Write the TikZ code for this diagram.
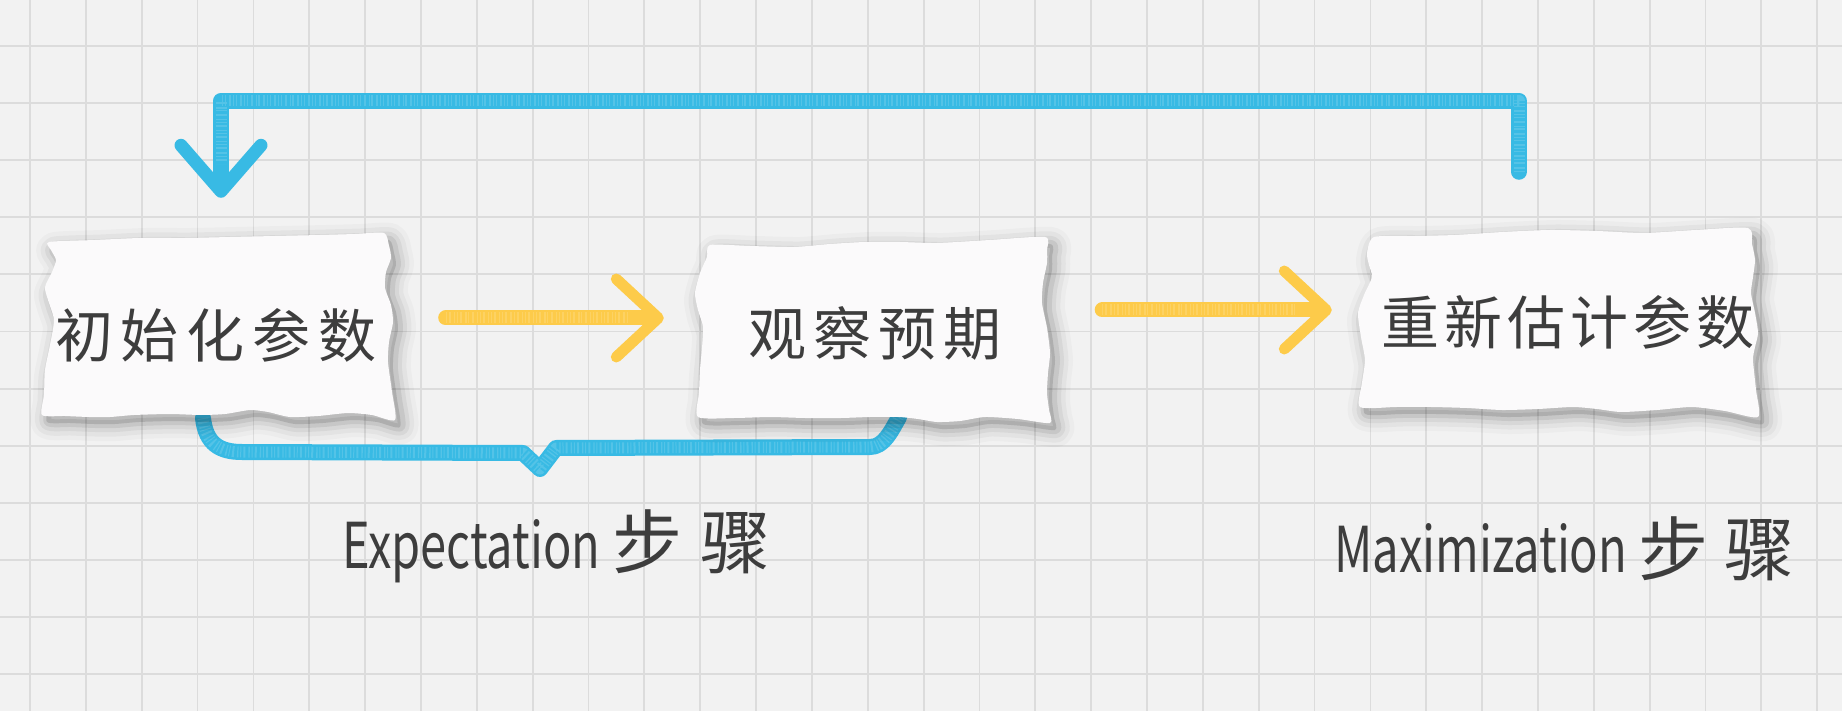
\documentclass[tikz,border=0pt]{standalone}
\usepackage{fontspec}
\usepackage{graphicx}
\setmainfont{Noto Sans CJK SC}
\usetikzlibrary{arrows.meta,calc}
\definecolor{bg}{HTML}{F2F2F2}
\definecolor{gridc}{HTML}{DCDCDC}
\definecolor{paper}{HTML}{FBFAFB}
\definecolor{crblue}{RGB}{56,186,228}
\definecolor{cryellow}{RGB}{253,203,74}
\definecolor{ink}{HTML}{3D3D3D}
\pgfdeclarelayer{back}
\pgfdeclarelayer{under}
\pgfdeclarelayer{paperlayer}
\pgfsetlayers{back,under,paperlayer,main}
\tikzset{
  gridline/.style={gridc, line width=1.8pt},
  boxtext/.style={font=\fontsize{58}{58}\selectfont, text=ink, inner sep=0pt},
  yarrow/.style={cryellow, line width=15pt, line cap=round, line join=round,
    -{Straight Barb[length=42pt,width=78pt,line width=11pt,round]}},
  barrow/.style={crblue, line width=16pt, line cap=round, line join=round,
    -{Straight Barb[length=46pt,width=80pt,line width=13pt,round]}},
  bline/.style={crblue, line width=16pt, line cap=round, line join=round},
  crayontex/.style={white, opacity=.14, line width=11pt, line cap=butt, line join=round,
    dash pattern=on 1pt off 2.2pt on 2pt off 3pt on 1.3pt off 1.8pt},
  steplabel/.style={text=ink, inner sep=0pt, anchor=base west},
}
\newcommand\papershape[1]{%
  \foreach \w/\o in {34/0.025,25/0.035,16/0.05,8/0.07}{%
    \draw[black,opacity=\o,line width=\w pt,line join=round,shift={(6,7)}]
      plot[smooth cycle,tension=0.4] coordinates {#1};}
  \fill[black,opacity=.12,shift={(5,7)}] plot[smooth cycle,tension=0.4] coordinates {#1};
  \fill[paper] plot[smooth cycle,tension=0.4] coordinates {#1};
}
\begin{document}
\begin{tikzpicture}[x=1pt,y=-1pt]
\useasboundingbox (0,0) rectangle (1842,711);
\begin{pgfonlayer}{back}
  \fill[bg] (0,0) rectangle (1842,711);
  \foreach \i in {0,...,32}{\draw[gridline] ({30+55.85*\i},0) -- ({30+55.85*\i},711);}
  \foreach \j in {0,...,11}{\draw[gridline] (0,{46+57.1*\j}) -- (1842,{46+57.1*\j});}
\end{pgfonlayer}

\begin{pgfonlayer}{paperlayer}
  \papershape{(49,242) (95,240) (140,238) (185,238) (230,237) (275,236) (320,235) (355,234) (384,233) (389,246) (391,258) (386,272) (385,288) (391,305) (393,322) (389,342) (388,362) (392,392) (395,420) (372,415) (348,413) (318,416) (290,417) (268,412) (250,410) (225,414) (201,415) (170,414) (134,415) (110,417) (89,417) (65,416) (42,415) (44,395) (45,370) (50,345) (54,320) (48,300) (45,287) (52,272) (56,260) (51,250)}
  \papershape{(710,245) (750,246) (794,247) (830,244) (865,242) (900,242) (937,243) (990,240) (1045,237) (1047,250) (1047,263) (1043,283) (1042,303) (1047,328) (1050,353) (1048,373) (1047,393) (1049,410) (1050,423) (1018,419) (985,417) (960,421) (937,422) (918,419) (899,417) (870,417) (841,418) (805,418) (770,417) (734,418) (698,417) (699,393) (700,370) (702,348) (703,327) (698,310) (695,293) (700,273) (707,257)}
  \papershape{(1374,237) (1415,236) (1455,235) (1503,232) (1550,230) (1597,231) (1644,233) (1696,230) (1748,228) (1752,244) (1755,260) (1753,277) (1751,293) (1755,313) (1758,333) (1755,347) (1753,360) (1756,390) (1758,417) (1725,411) (1692,407) (1657,410) (1621,412) (1597,409) (1573,407) (1538,409) (1502,410) (1467,408) (1431,407) (1396,407) (1360,407) (1362,383) (1365,360) (1361,337) (1358,313) (1364,295) (1372,277) (1369,265) (1367,253)}
\end{pgfonlayer}

\node[boxtext, minimum width=347pt, minimum height=182pt] (t1) at (216,335)
  {初\hspace{8pt}始\hspace{8pt}化\hspace{8pt}参\hspace{8pt}数};
\node[boxtext, minimum width=352pt, minimum height=188pt] (t2) at (875,333)
  {观\hspace{7pt}察\hspace{7pt}预\hspace{7pt}期};
\node[boxtext, minimum width=398pt, minimum height=190pt] (t3) at (1568,322)
  {重\hspace{5pt}新\hspace{5pt}估\hspace{5pt}计\hspace{5pt}参\hspace{5pt}数};

\node[steplabel] (el) at (342,568)
  {\resizebox{258pt}{49pt}{Expectation}\hspace{12pt}{\fontsize{70}{70}\selectfont 步\hspace{18pt}骤}};
\node[steplabel] (ml) at (1334,572)
  {\resizebox{293pt}{49pt}{Maximization}\hspace{11pt}\raisebox{-3pt}{\fontsize{70}{70}\selectfont 步\hspace{16pt}骤}};

\draw[yarrow] ([xshift=56pt,yshift=17pt]t1.east) -- ([xshift=-35pt,yshift=15pt]t2.west);
\draw[crayontex] ([xshift=56pt,yshift=17pt]t1.east) -- ([xshift=-70pt,yshift=15pt]t2.west);
\draw[yarrow] ([xshift=51pt,yshift=23pt]t2.east) -- ([xshift=-37pt,yshift=12pt]t3.west);
\draw[crayontex] ([xshift=51pt,yshift=23pt]t2.east) -- ([xshift=-72pt,yshift=12pt]t3.west);
\draw[barrow] ([xshift=-49pt,yshift=55pt]t3.north) -- ++(0,-71) -| ([xshift=5pt,yshift=46pt]t1.north);
\draw[crayontex] ([xshift=-49pt,yshift=55pt]t3.north) -- ++(0,-71) -| ([xshift=5pt,yshift=80pt]t1.north);
\begin{pgfonlayer}{under}
\draw[bline] ([xshift=-13pt,yshift=8pt]t1.south) .. controls +(3,26) and +(-22,0) .. (242,452)
  -- (523,453) -- (540,469) -- (556,448) -- (870,447)
  .. controls +(14,0) and +(-8,14) .. ([xshift=24pt,yshift=10pt]t2.south);
\draw[crayontex] ([xshift=-13pt,yshift=8pt]t1.south) .. controls +(3,26) and +(-22,0) .. (242,452)
  -- (523,453) -- (540,469) -- (556,448) -- (870,447)
  .. controls +(14,0) and +(-8,14) .. ([xshift=24pt,yshift=10pt]t2.south);
\end{pgfonlayer}
\end{tikzpicture}
\end{document}
